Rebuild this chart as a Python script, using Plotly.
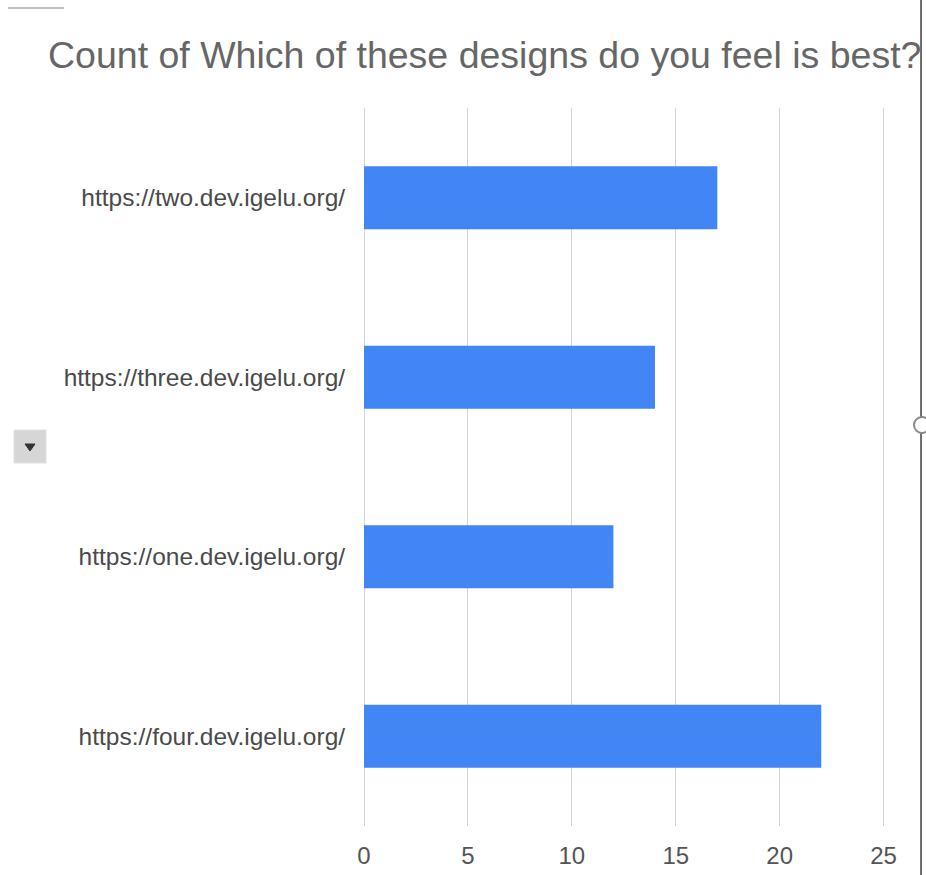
import plotly.graph_objects as go

categories = ["https://two.dev.igelu.org/", "https://three.dev.igelu.org/",
              "https://one.dev.igelu.org/", "https://four.dev.igelu.org/"]
counts = [17, 14, 12, 22]
tick_vals = [0, 5, 10, 15, 20, 25]
tick_text = ["0", "5", "10", "15", "20", "25"]
title_text = "Count of Which of these designs do you feel is best?"

W, H = 926, 875
L, R, T, B = 364, 32, 108, 49
PW, PH = W - L - R, H - T - B


def px(x):
    return (x - L) / PW


def py(y):
    return (H - B - y) / PH


fig = go.Figure(go.Bar(
    x=counts, y=categories, orientation="h",
    marker=dict(color="#4285F4", line=dict(width=0)),
    hoverinfo="skip",
))

shapes = [
    dict(type="line", xref="paper", yref="paper", x0=px(8), x1=px(64), y0=py(8), y1=py(8),
         line=dict(color="#c0c0c0", width=2)),
    dict(type="line", xref="paper", yref="paper", x0=px(921), x1=px(921), y0=py(0), y1=py(875),
         line=dict(color="#707070", width=2)),
    dict(type="circle", xref="paper", yref="paper", x0=px(914), x1=px(930), y0=py(417), y1=py(433),
         line=dict(color="#888888", width=2), fillcolor="white"),
    dict(type="rect", xref="paper", yref="paper", x0=px(14), x1=px(46), y0=py(463), y1=py(430),
         line=dict(color="#e0e0e0", width=1), fillcolor="#d6d6d6"),
    dict(type="path", xref="paper", yref="paper",
         path=f"M {px(25)},{py(444)} L {px(35)},{py(444)} L {px(30)},{py(451)} Z",
         line=dict(color="#333333", width=1), fillcolor="#333333"),
]

fig.update_layout(
    width=W, height=H,
    margin=dict(l=L, r=R, t=T, b=B, pad=0, autoexpand=False),
    paper_bgcolor="white", plot_bgcolor="white",
    showlegend=False,
    bargap=0.65,
    title=dict(text=title_text, xref="container", yref="container",
               x=48 / W, xanchor="left", y=1 - 55 / H, yanchor="middle",
               font=dict(family="Liberation Sans, Arial", size=37.5, color="#666666")),
    font=dict(family="Liberation Sans, Arial"),
    xaxis=dict(range=[0, 25.5], tickvals=tick_vals, ticktext=tick_text, automargin=False,
               showgrid=True, gridcolor="#d4d4d4", gridwidth=1,
               zeroline=True, zerolinecolor="#d4d4d4", zerolinewidth=1,
               showline=False, ticks="outside", ticklen=8, tickcolor="rgba(0,0,0,0)",
               tickfont=dict(size=24, color="#555555"), fixedrange=True),
    yaxis=dict(autorange="reversed", showgrid=False, zeroline=False, showline=False,
               automargin=False,
               ticks="outside", ticklen=13, tickcolor="rgba(0,0,0,0)",
               tickfont=dict(size=24.5, color="#4a4a4a"), fixedrange=True),
    shapes=shapes,
)

fig.write_html("out.html", config={"displayModeBar": False},
               post_script="document.body.style.margin='0';document.body.style.overflow='hidden';")
